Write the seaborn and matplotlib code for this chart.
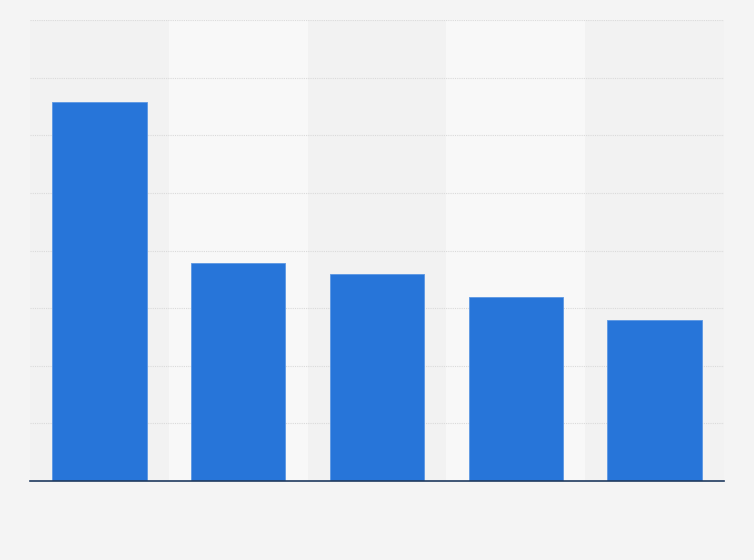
import matplotlib
matplotlib.use("Agg")
import matplotlib.pyplot as plt
import seaborn as sns
import pandas as pd

categories = ["A", "B", "C", "D", "E"]
values = [65.8, 37.8, 35.9, 31.9, 28.0]

sns.set_theme(style="white")
plt.rcParams['font.family'] = ['DejaVu Sans']

df = pd.DataFrame({"category": categories, "value": values})

fig = plt.figure(figsize=(7.54, 5.6), dpi=100)
fig.patch.set_facecolor("#f4f4f4")
ax = fig.add_axes([30/754, 79/560, 694/754, 461/560])
ax.set_facecolor("#f4f4f4")

for i in range(len(categories)):
    ax.axvspan(i - 0.5, i + 0.5, color="#f2f2f2" if i % 2 == 0 else "#f8f8f8", zorder=0, lw=0)

for y in range(10, 90, 10):
    ax.axhline(y, color="#dadada", lw=0.8, ls=(0, (1, 1)), zorder=1)

sns.barplot(data=df, x="category", y="value", color="#2775d9", width=0.68,
            saturation=1, ax=ax, zorder=2, linewidth=0.6, edgecolor="#5c97e3")

ax.set_xlim(-0.5, len(categories) - 0.5)
ax.set_ylim(0, 80)
ax.set_xlabel("")
ax.set_ylabel("")
ax.set_xticks([])
ax.set_yticks([])
for s in ["top", "right", "left"]:
    ax.spines[s].set_visible(False)
ax.spines["bottom"].set_color("#1f3a5f")
ax.spines["bottom"].set_linewidth(1.2)
ax.spines["bottom"].set_zorder(3)

fig.savefig("out.png", dpi=100, facecolor=fig.get_facecolor())
